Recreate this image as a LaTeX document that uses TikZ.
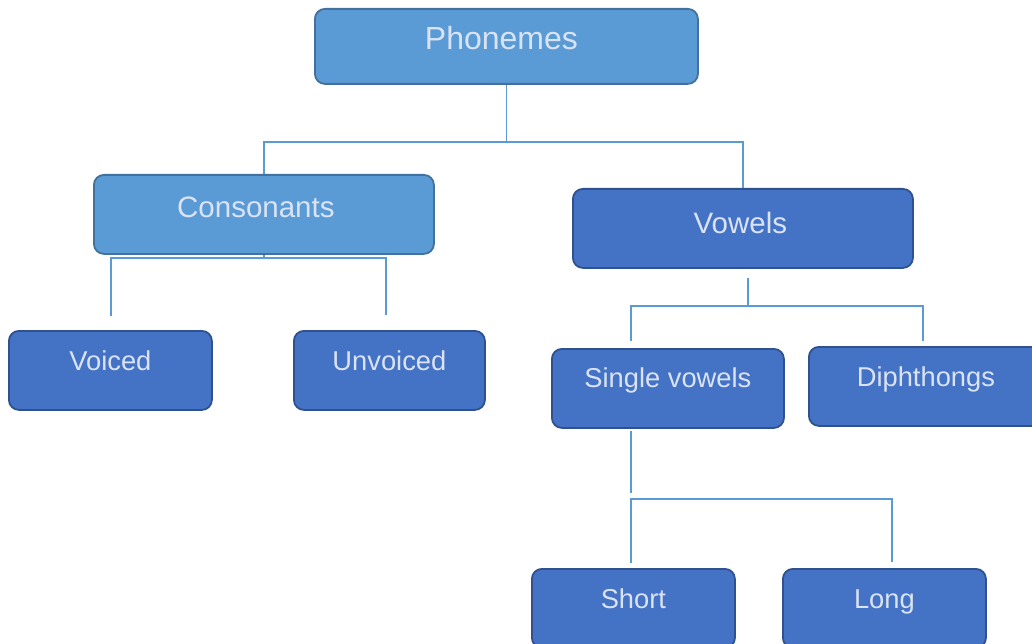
\documentclass[tikz,border=0pt]{standalone}
\usepackage{fontspec}
\setmainfont{Liberation Sans}
\definecolor{lightfill}{HTML}{5B9BD5}
\definecolor{lightborder}{HTML}{41719C}
\definecolor{darkfill}{HTML}{4472C4}
\definecolor{darkborder}{HTML}{2F528F}
\definecolor{boxtext}{HTML}{DAE3F3}
\definecolor{conncol}{HTML}{5B9BD5}
\tikzset{
  box/.style={rounded corners=10pt, line width=1.8pt, inner sep=0pt, text=boxtext, anchor=north west},
  lightbox/.style={box, fill=lightfill, draw=lightborder},
  darkbox/.style={box, fill=darkfill, draw=darkborder},
  conn/.style={draw=conncol, line width=1.4pt}
}
\begin{document}
\begin{tikzpicture}[x=1pt,y=-1pt]
\clip (0,0) rectangle (1032,644);
\fill[white] (0,0) rectangle (1032,644);
% boxes (anchor north west at top-left corner)
\node[lightbox, minimum width=383pt, text height=41pt, text depth=34pt, font=\fontsize{32}{36}\selectfont] (ph) at (314,8) {\hspace*{-10pt}Phonemes};
\node[lightbox, minimum width=340pt, text height=43pt, text depth=36pt, font=\fontsize{29.5}{34}\selectfont] (co) at (93,174) {\hspace*{-16pt}Consonants};
\node[darkbox, minimum width=340pt, text height=45pt, text depth=34pt, font=\fontsize{29.5}{34}\selectfont] (vo) at (572,188) {\hspace*{-5pt}Vowels};
\node[darkbox, minimum width=203pt, text height=40pt, text depth=39pt, font=\fontsize{27.3}{32}\selectfont] (vd) at (8,330) {Voiced};
\node[darkbox, minimum width=191pt, text height=40pt, text depth=39pt, font=\fontsize{27.3}{32}\selectfont] (uv) at (293,330) {Unvoiced};
\node[darkbox, minimum width=232pt, text height=39pt, text depth=40pt, font=\fontsize{27.3}{32}\selectfont] (sv) at (551,348) {Single vowels};
\node[darkbox, minimum width=234pt, text height=40pt, text depth=39pt, font=\fontsize{27.3}{32}\selectfont] (di) at (808,346) {Diphthongs};
\node[darkbox, minimum width=203pt, text height=40pt, text depth=39pt, font=\fontsize{27.3}{32}\selectfont] (sh) at (531,568) {Short};
\node[darkbox, minimum width=203pt, text height=40pt, text depth=39pt, font=\fontsize{27.3}{32}\selectfont] (lo) at (782,568) {Long};
% junction coordinates
\coordinate (j1) at (ph.south |- 0,142);
\coordinate (c0) at (co.south |- 0,258);
\coordinate (c1) at (111,316);
\coordinate (c2) at (386,315);
\coordinate (v0) at (748,278);
\coordinate (v1) at (631,341);
\coordinate (v2) at (923,341);
\coordinate (s0) at (631,431);
\coordinate (s1) at (631,563);
\coordinate (s2) at (892,562);
% connectors
\draw[conn] (ph.south) -- (j1);
\draw[conn] (co.north) |- (j1) -| (vo.north);
\draw[conn] (co.south) -- (c0);
\draw[conn] (c1) |- (c0) -| (c2);
\draw[conn] (v0) -- (748,306);
\draw[conn] (v1) |- (748,306) -| (v2);
\draw[conn] (s0) -- (631,493);
\draw[conn] (s1) |- (631,499) -| (s2);
\end{tikzpicture}
\end{document}
